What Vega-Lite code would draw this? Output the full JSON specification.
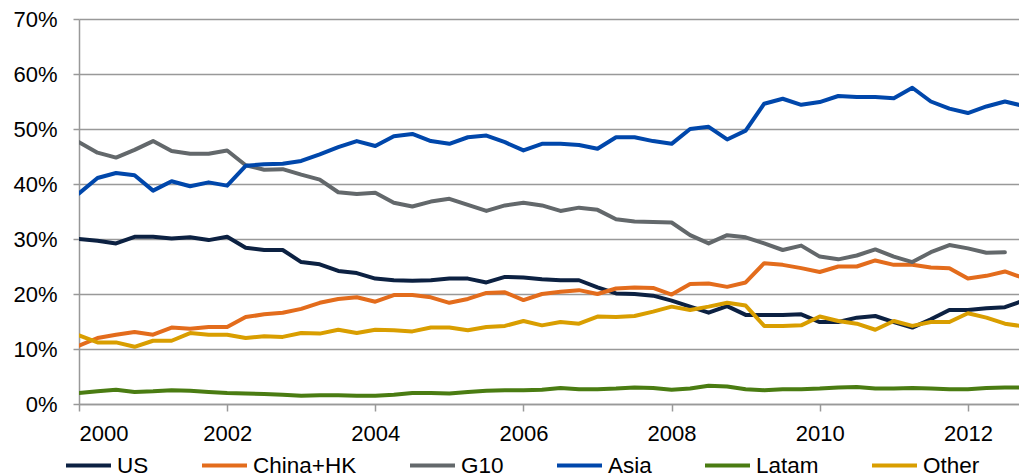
{
  "$schema": "https://vega.github.io/schema/vega-lite/v6.json",
  "width": 940,
  "height": 385,
  "autosize": {"type": "none"},
  "padding": {"left": 79, "top": 19, "right": 0, "bottom": 72},
  "background": "white",
  "config": {"view": {"stroke": null}, "font": "Liberation Sans"},
  "datasets": {
    "d": [
      {"t":2000,"s":"US","v":30.0},{"t":2000.25,"s":"US","v":29.7},{"t":2000.5,"s":"US","v":29.2},{"t":2000.75,"s":"US","v":30.4},
      {"t":2001,"s":"US","v":30.4},{"t":2001.25,"s":"US","v":30.1},{"t":2001.5,"s":"US","v":30.3},{"t":2001.75,"s":"US","v":29.8},
      {"t":2002,"s":"US","v":30.4},{"t":2002.25,"s":"US","v":28.4},{"t":2002.5,"s":"US","v":28.0},{"t":2002.75,"s":"US","v":28.0},
      {"t":2003,"s":"US","v":25.8},{"t":2003.25,"s":"US","v":25.4},{"t":2003.5,"s":"US","v":24.2},{"t":2003.75,"s":"US","v":23.8},
      {"t":2004,"s":"US","v":22.8},{"t":2004.25,"s":"US","v":22.5},{"t":2004.5,"s":"US","v":22.4},{"t":2004.75,"s":"US","v":22.5},
      {"t":2005,"s":"US","v":22.8},{"t":2005.25,"s":"US","v":22.8},{"t":2005.5,"s":"US","v":22.1},{"t":2005.75,"s":"US","v":23.1},
      {"t":2006,"s":"US","v":23.0},{"t":2006.25,"s":"US","v":22.7},{"t":2006.5,"s":"US","v":22.5},{"t":2006.75,"s":"US","v":22.5},
      {"t":2007,"s":"US","v":21.2},{"t":2007.25,"s":"US","v":20.1},{"t":2007.5,"s":"US","v":20.0},{"t":2007.75,"s":"US","v":19.7},
      {"t":2008,"s":"US","v":18.8},{"t":2008.25,"s":"US","v":17.7},{"t":2008.5,"s":"US","v":16.6},{"t":2008.75,"s":"US","v":17.8},
      {"t":2009,"s":"US","v":16.2},{"t":2009.25,"s":"US","v":16.2},{"t":2009.5,"s":"US","v":16.2},{"t":2009.75,"s":"US","v":16.3},
      {"t":2010,"s":"US","v":14.9},{"t":2010.25,"s":"US","v":14.9},{"t":2010.5,"s":"US","v":15.7},{"t":2010.75,"s":"US","v":16.0},
      {"t":2011,"s":"US","v":14.9},{"t":2011.25,"s":"US","v":13.9},{"t":2011.5,"s":"US","v":15.4},{"t":2011.75,"s":"US","v":17.1},
      {"t":2012,"s":"US","v":17.1},{"t":2012.25,"s":"US","v":17.4},{"t":2012.5,"s":"US","v":17.6},{"t":2012.75,"s":"US","v":18.8},

      {"t":2000,"s":"China+HK","v":10.6},{"t":2000.25,"s":"China+HK","v":12.0},{"t":2000.5,"s":"China+HK","v":12.6},{"t":2000.75,"s":"China+HK","v":13.1},
      {"t":2001,"s":"China+HK","v":12.6},{"t":2001.25,"s":"China+HK","v":13.9},{"t":2001.5,"s":"China+HK","v":13.7},{"t":2001.75,"s":"China+HK","v":14.0},
      {"t":2002,"s":"China+HK","v":14.0},{"t":2002.25,"s":"China+HK","v":15.8},{"t":2002.5,"s":"China+HK","v":16.3},{"t":2002.75,"s":"China+HK","v":16.6},
      {"t":2003,"s":"China+HK","v":17.3},{"t":2003.25,"s":"China+HK","v":18.4},{"t":2003.5,"s":"China+HK","v":19.1},{"t":2003.75,"s":"China+HK","v":19.4},
      {"t":2004,"s":"China+HK","v":18.6},{"t":2004.25,"s":"China+HK","v":19.8},{"t":2004.5,"s":"China+HK","v":19.8},{"t":2004.75,"s":"China+HK","v":19.4},
      {"t":2005,"s":"China+HK","v":18.4},{"t":2005.25,"s":"China+HK","v":19.1},{"t":2005.5,"s":"China+HK","v":20.2},{"t":2005.75,"s":"China+HK","v":20.3},
      {"t":2006,"s":"China+HK","v":18.9},{"t":2006.25,"s":"China+HK","v":20.0},{"t":2006.5,"s":"China+HK","v":20.4},{"t":2006.75,"s":"China+HK","v":20.7},
      {"t":2007,"s":"China+HK","v":20.0},{"t":2007.25,"s":"China+HK","v":21.0},{"t":2007.5,"s":"China+HK","v":21.2},{"t":2007.75,"s":"China+HK","v":21.1},
      {"t":2008,"s":"China+HK","v":19.9},{"t":2008.25,"s":"China+HK","v":21.8},{"t":2008.5,"s":"China+HK","v":21.9},{"t":2008.75,"s":"China+HK","v":21.3},
      {"t":2009,"s":"China+HK","v":22.1},{"t":2009.25,"s":"China+HK","v":25.6},{"t":2009.5,"s":"China+HK","v":25.3},{"t":2009.75,"s":"China+HK","v":24.7},
      {"t":2010,"s":"China+HK","v":24.0},{"t":2010.25,"s":"China+HK","v":25.0},{"t":2010.5,"s":"China+HK","v":25.0},{"t":2010.75,"s":"China+HK","v":26.1},
      {"t":2011,"s":"China+HK","v":25.3},{"t":2011.25,"s":"China+HK","v":25.3},{"t":2011.5,"s":"China+HK","v":24.8},{"t":2011.75,"s":"China+HK","v":24.7},
      {"t":2012,"s":"China+HK","v":22.8},{"t":2012.25,"s":"China+HK","v":23.3},{"t":2012.5,"s":"China+HK","v":24.1},{"t":2012.75,"s":"China+HK","v":22.9},

      {"t":2000,"s":"G10","v":47.6},{"t":2000.25,"s":"G10","v":45.7},{"t":2000.5,"s":"G10","v":44.8},{"t":2000.75,"s":"G10","v":46.2},
      {"t":2001,"s":"G10","v":47.8},{"t":2001.25,"s":"G10","v":46.0},{"t":2001.5,"s":"G10","v":45.5},{"t":2001.75,"s":"G10","v":45.5},
      {"t":2002,"s":"G10","v":46.1},{"t":2002.25,"s":"G10","v":43.4},{"t":2002.5,"s":"G10","v":42.6},{"t":2002.75,"s":"G10","v":42.7},
      {"t":2003,"s":"G10","v":41.7},{"t":2003.25,"s":"G10","v":40.8},{"t":2003.5,"s":"G10","v":38.5},{"t":2003.75,"s":"G10","v":38.2},
      {"t":2004,"s":"G10","v":38.4},{"t":2004.25,"s":"G10","v":36.6},{"t":2004.5,"s":"G10","v":35.9},{"t":2004.75,"s":"G10","v":36.8},
      {"t":2005,"s":"G10","v":37.3},{"t":2005.25,"s":"G10","v":36.2},{"t":2005.5,"s":"G10","v":35.1},{"t":2005.75,"s":"G10","v":36.1},
      {"t":2006,"s":"G10","v":36.6},{"t":2006.25,"s":"G10","v":36.1},{"t":2006.5,"s":"G10","v":35.1},{"t":2006.75,"s":"G10","v":35.7},
      {"t":2007,"s":"G10","v":35.3},{"t":2007.25,"s":"G10","v":33.6},{"t":2007.5,"s":"G10","v":33.2},{"t":2007.75,"s":"G10","v":33.1},
      {"t":2008,"s":"G10","v":33.0},{"t":2008.25,"s":"G10","v":30.7},{"t":2008.5,"s":"G10","v":29.2},{"t":2008.75,"s":"G10","v":30.7},
      {"t":2009,"s":"G10","v":30.3},{"t":2009.25,"s":"G10","v":29.2},{"t":2009.5,"s":"G10","v":28.0},{"t":2009.75,"s":"G10","v":28.8},
      {"t":2010,"s":"G10","v":26.8},{"t":2010.25,"s":"G10","v":26.3},{"t":2010.5,"s":"G10","v":27.0},{"t":2010.75,"s":"G10","v":28.1},
      {"t":2011,"s":"G10","v":26.8},{"t":2011.25,"s":"G10","v":25.8},{"t":2011.5,"s":"G10","v":27.6},{"t":2011.75,"s":"G10","v":28.9},
      {"t":2012,"s":"G10","v":28.3},{"t":2012.25,"s":"G10","v":27.5},{"t":2012.5,"s":"G10","v":27.6},

      {"t":2000,"s":"Asia","v":38.3},{"t":2000.25,"s":"Asia","v":41.1},{"t":2000.5,"s":"Asia","v":42.0},{"t":2000.75,"s":"Asia","v":41.6},
      {"t":2001,"s":"Asia","v":38.8},{"t":2001.25,"s":"Asia","v":40.5},{"t":2001.5,"s":"Asia","v":39.6},{"t":2001.75,"s":"Asia","v":40.3},
      {"t":2002,"s":"Asia","v":39.7},{"t":2002.25,"s":"Asia","v":43.3},{"t":2002.5,"s":"Asia","v":43.6},{"t":2002.75,"s":"Asia","v":43.7},
      {"t":2003,"s":"Asia","v":44.2},{"t":2003.25,"s":"Asia","v":45.4},{"t":2003.5,"s":"Asia","v":46.7},{"t":2003.75,"s":"Asia","v":47.8},
      {"t":2004,"s":"Asia","v":46.9},{"t":2004.25,"s":"Asia","v":48.7},{"t":2004.5,"s":"Asia","v":49.1},{"t":2004.75,"s":"Asia","v":47.8},
      {"t":2005,"s":"Asia","v":47.3},{"t":2005.25,"s":"Asia","v":48.5},{"t":2005.5,"s":"Asia","v":48.8},{"t":2005.75,"s":"Asia","v":47.6},
      {"t":2006,"s":"Asia","v":46.1},{"t":2006.25,"s":"Asia","v":47.3},{"t":2006.5,"s":"Asia","v":47.3},{"t":2006.75,"s":"Asia","v":47.1},
      {"t":2007,"s":"Asia","v":46.4},{"t":2007.25,"s":"Asia","v":48.5},{"t":2007.5,"s":"Asia","v":48.5},{"t":2007.75,"s":"Asia","v":47.8},
      {"t":2008,"s":"Asia","v":47.3},{"t":2008.25,"s":"Asia","v":50.0},{"t":2008.5,"s":"Asia","v":50.4},{"t":2008.75,"s":"Asia","v":48.1},
      {"t":2009,"s":"Asia","v":49.7},{"t":2009.25,"s":"Asia","v":54.6},{"t":2009.5,"s":"Asia","v":55.5},{"t":2009.75,"s":"Asia","v":54.4},
      {"t":2010,"s":"Asia","v":54.9},{"t":2010.25,"s":"Asia","v":56.0},{"t":2010.5,"s":"Asia","v":55.8},{"t":2010.75,"s":"Asia","v":55.8},
      {"t":2011,"s":"Asia","v":55.6},{"t":2011.25,"s":"Asia","v":57.5},{"t":2011.5,"s":"Asia","v":55.0},{"t":2011.75,"s":"Asia","v":53.7},
      {"t":2012,"s":"Asia","v":52.9},{"t":2012.25,"s":"Asia","v":54.1},{"t":2012.5,"s":"Asia","v":55.0},{"t":2012.75,"s":"Asia","v":54.2},

      {"t":2000,"s":"Latam","v":2.0},{"t":2000.25,"s":"Latam","v":2.3},{"t":2000.5,"s":"Latam","v":2.6},{"t":2000.75,"s":"Latam","v":2.2},
      {"t":2001,"s":"Latam","v":2.3},{"t":2001.25,"s":"Latam","v":2.5},{"t":2001.5,"s":"Latam","v":2.4},{"t":2001.75,"s":"Latam","v":2.2},
      {"t":2002,"s":"Latam","v":2.0},{"t":2002.25,"s":"Latam","v":1.9},{"t":2002.5,"s":"Latam","v":1.8},{"t":2002.75,"s":"Latam","v":1.7},
      {"t":2003,"s":"Latam","v":1.5},{"t":2003.25,"s":"Latam","v":1.6},{"t":2003.5,"s":"Latam","v":1.6},{"t":2003.75,"s":"Latam","v":1.5},
      {"t":2004,"s":"Latam","v":1.5},{"t":2004.25,"s":"Latam","v":1.7},{"t":2004.5,"s":"Latam","v":2.0},{"t":2004.75,"s":"Latam","v":2.0},
      {"t":2005,"s":"Latam","v":1.9},{"t":2005.25,"s":"Latam","v":2.2},{"t":2005.5,"s":"Latam","v":2.4},{"t":2005.75,"s":"Latam","v":2.5},
      {"t":2006,"s":"Latam","v":2.5},{"t":2006.25,"s":"Latam","v":2.6},{"t":2006.5,"s":"Latam","v":2.9},{"t":2006.75,"s":"Latam","v":2.7},
      {"t":2007,"s":"Latam","v":2.7},{"t":2007.25,"s":"Latam","v":2.8},{"t":2007.5,"s":"Latam","v":3.0},{"t":2007.75,"s":"Latam","v":2.9},
      {"t":2008,"s":"Latam","v":2.6},{"t":2008.25,"s":"Latam","v":2.8},{"t":2008.5,"s":"Latam","v":3.3},{"t":2008.75,"s":"Latam","v":3.2},
      {"t":2009,"s":"Latam","v":2.7},{"t":2009.25,"s":"Latam","v":2.5},{"t":2009.5,"s":"Latam","v":2.7},{"t":2009.75,"s":"Latam","v":2.7},
      {"t":2010,"s":"Latam","v":2.8},{"t":2010.25,"s":"Latam","v":3.0},{"t":2010.5,"s":"Latam","v":3.1},{"t":2010.75,"s":"Latam","v":2.8},
      {"t":2011,"s":"Latam","v":2.8},{"t":2011.25,"s":"Latam","v":2.9},{"t":2011.5,"s":"Latam","v":2.8},{"t":2011.75,"s":"Latam","v":2.7},
      {"t":2012,"s":"Latam","v":2.7},{"t":2012.25,"s":"Latam","v":2.9},{"t":2012.5,"s":"Latam","v":3.0},{"t":2012.75,"s":"Latam","v":3.0},

      {"t":2000,"s":"Other","v":12.5},{"t":2000.25,"s":"Other","v":11.2},{"t":2000.5,"s":"Other","v":11.2},{"t":2000.75,"s":"Other","v":10.4},
      {"t":2001,"s":"Other","v":11.5},{"t":2001.25,"s":"Other","v":11.5},{"t":2001.5,"s":"Other","v":12.9},{"t":2001.75,"s":"Other","v":12.6},
      {"t":2002,"s":"Other","v":12.6},{"t":2002.25,"s":"Other","v":12.0},{"t":2002.5,"s":"Other","v":12.3},{"t":2002.75,"s":"Other","v":12.2},
      {"t":2003,"s":"Other","v":12.9},{"t":2003.25,"s":"Other","v":12.8},{"t":2003.5,"s":"Other","v":13.5},{"t":2003.75,"s":"Other","v":12.9},
      {"t":2004,"s":"Other","v":13.5},{"t":2004.25,"s":"Other","v":13.4},{"t":2004.5,"s":"Other","v":13.2},{"t":2004.75,"s":"Other","v":13.9},
      {"t":2005,"s":"Other","v":13.9},{"t":2005.25,"s":"Other","v":13.4},{"t":2005.5,"s":"Other","v":14.0},{"t":2005.75,"s":"Other","v":14.2},
      {"t":2006,"s":"Other","v":15.1},{"t":2006.25,"s":"Other","v":14.3},{"t":2006.5,"s":"Other","v":14.9},{"t":2006.75,"s":"Other","v":14.6},
      {"t":2007,"s":"Other","v":15.9},{"t":2007.25,"s":"Other","v":15.8},{"t":2007.5,"s":"Other","v":16.0},{"t":2007.75,"s":"Other","v":16.8},
      {"t":2008,"s":"Other","v":17.7},{"t":2008.25,"s":"Other","v":17.1},{"t":2008.5,"s":"Other","v":17.7},{"t":2008.75,"s":"Other","v":18.4},
      {"t":2009,"s":"Other","v":17.9},{"t":2009.25,"s":"Other","v":14.2},{"t":2009.5,"s":"Other","v":14.2},{"t":2009.75,"s":"Other","v":14.3},
      {"t":2010,"s":"Other","v":15.9},{"t":2010.25,"s":"Other","v":15.1},{"t":2010.5,"s":"Other","v":14.6},{"t":2010.75,"s":"Other","v":13.5},
      {"t":2011,"s":"Other","v":15.1},{"t":2011.25,"s":"Other","v":14.2},{"t":2011.5,"s":"Other","v":14.9},{"t":2011.75,"s":"Other","v":14.9},
      {"t":2012,"s":"Other","v":16.5},{"t":2012.25,"s":"Other","v":15.7},{"t":2012.5,"s":"Other","v":14.6},{"t":2012.75,"s":"Other","v":14.1}
    ]
  },
  "data": {"name": "d"},
  "mark": {"type": "line", "strokeWidth": 4, "strokeCap": "round", "strokeJoin": "round", "clip": true},
  "encoding": {
    "x": {
      "field": "t", "type": "quantitative",
      "scale": {"domain": [2000, 2012.69], "nice": false, "zero": false},
      "axis": {
        "values": [2000, 2002, 2004, 2006, 2008, 2010, 2012], "format": "d", "title": null, "grid": false,
        "domainColor": "#999999", "domainWidth": 1.5, "tickColor": "#999999", "tickWidth": 1.5, "tickSize": 7,
        "labelFontSize": 22, "labelColor": "#000000", "labelPadding": 12, "labelFont": "Liberation Sans"
      }
    },
    "y": {
      "field": "v", "type": "quantitative",
      "scale": {"domain": [0, 70], "nice": false},
      "axis": {
        "values": [0, 10, 20, 30, 40, 50, 60, 70], "labelExpr": "datum.value + '%'", "title": null,
        "grid": true, "gridColor": "#999999", "gridWidth": 1.5,
        "domainColor": "#999999", "domainWidth": 1.5, "tickColor": "#999999", "tickWidth": 1.5, "tickSize": 6,
        "labelFontSize": 22, "labelColor": "#000000", "labelPadding": 16, "labelFont": "Liberation Sans"
      }
    },
    "color": {
      "field": "s", "type": "nominal",
      "scale": {
        "domain": ["US", "China+HK", "G10", "Asia", "Latam", "Other"],
        "range": ["#0c2142", "#e36c1c", "#63686b", "#0047ab", "#4a7c12", "#d99e00"]
      },
      "legend": {
        "orient": "none", "legendX": -15, "legendY": 422, "direction": "horizontal", "columns": 6,
        "title": null, "padding": 0, "symbolType": "stroke", "symbolSize": 2025, "symbolStrokeWidth": 4,
        "labelFontSize": 22.5, "labelColor": "#000000", "labelFont": "Liberation Sans", "labelOffset": 4,
        "columnPadding": 45, "labelLimit": 300
      }
    }
  }
}
